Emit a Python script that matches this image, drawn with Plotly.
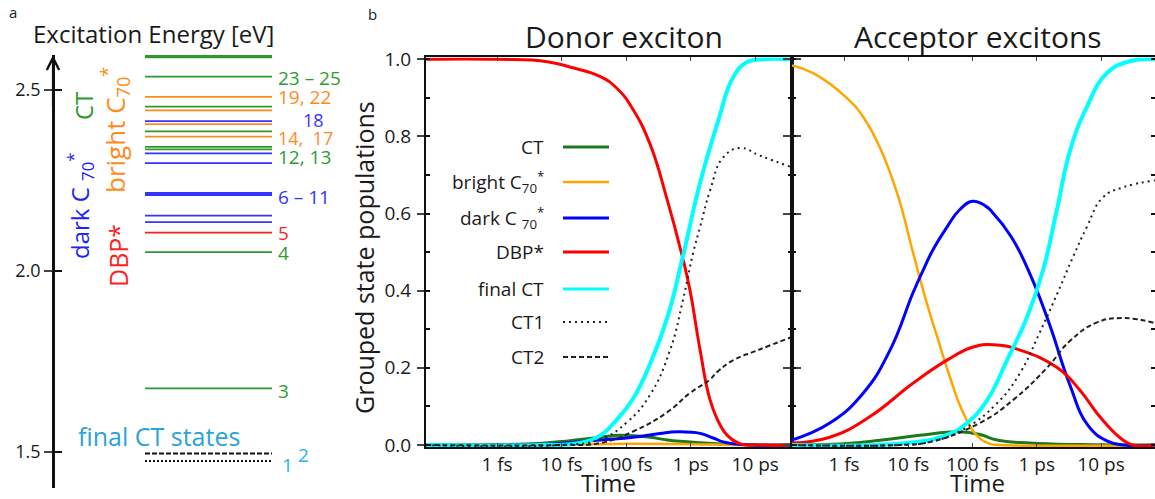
import plotly.graph_objects as go

W, H = 1155, 499
FONT = "Open Sans"
INK = "#1a1a1a"


def px(x):
    return x / W


def py(y):
    return 1 - y / H


# ---------------- panel a: excitation energies [eV] ----------------
CT_LEVELS = [1.676, 2.052, 2.336, 2.343, 2.386, 2.454, 2.537, 2.590, 2.594]
BRIGHT_LEVELS = [2.371, 2.406, 2.444, 2.481]
DARK_LEVELS = [2.135, 2.153, 2.210, 2.212, 2.214, 2.216, 2.298, 2.325, 2.414]
DBP_LEVELS = [2.106]
FINAL_CT1_LEVEL = 1.475
FINAL_CT2_LEVEL = 1.496

STATE_LABELS = ["23 – 25", "19, 22", "18", "14,  17", "12, 13", "6 – 11", "5", "4", "3"]
STATE_LABEL_E = [2.533, 2.481, 2.418, 2.367, 2.315, 2.204, 2.105, 2.050, 1.668]
STATE_LABEL_GROUP = ["ct", "bright", "dark", "bright", "ct", "dark", "dbp", "ct", "ct"]
E_TICKS = [1.5, 2.0, 2.5]

# ---------------- panel b: grouped state populations ----------------
# donor exciton, time in fs
D_T_CT = [0.08, 1, 4.6, 13.5, 40, 80, 235, 435, 1400, 5900, 37000]
D_P_CT = [0.0, 0.001, 0.004, 0.011, 0.02, 0.025, 0.02, 0.013, 0.006, 0.001, 0.0]
D_T_BRIGHT = [0.08, 10, 100, 1000, 5000, 37000]
D_P_BRIGHT = [0.0, 0.001, 0.003, 0.002, 0.0, 0.0]
D_T_DARK = [0.08, 1, 9.5, 40, 128, 335, 620, 1400, 2240, 3200, 5900, 37000]
D_P_DARK = [0.0, 0.0, 0.004, 0.013, 0.02, 0.03, 0.034, 0.03, 0.018, 0.008, 0.001, 0.0]
D_T_DBP = [0.08, 1, 6, 15, 40, 72, 128, 235, 435, 740, 980, 1400, 2000, 2900, 3700, 5900, 12000, 37000]
D_P_DBP = [1.0, 1.0, 0.994, 0.978, 0.955, 0.925, 0.87, 0.78, 0.635, 0.49, 0.40, 0.246, 0.117, 0.05, 0.025, 0.003, 0.0, 0.0]
D_T_FINAL = [0.08, 4.6, 19, 40, 67, 128, 235, 435, 760, 1400, 2600, 4600, 7500, 12000, 37000]
D_P_FINAL = [0.0, 0.0, 0.005, 0.025, 0.06, 0.12, 0.21, 0.33, 0.49, 0.68, 0.834, 0.955, 0.993, 1.0, 1.0]
D_T_CT1 = [0.08, 9.5, 40, 105, 235, 480, 760, 1100, 1400, 2000, 3200, 5900, 12000, 37000]
D_P_CT1 = [0.0, 0.0, 0.015, 0.06, 0.13, 0.246, 0.376, 0.50, 0.565, 0.66, 0.746, 0.77, 0.75, 0.72]
D_T_CT2 = [0.08, 9.5, 40, 128, 435, 980, 2000, 2600, 4600, 10700, 37000]
D_P_CT2 = [0.0, 0.0, 0.005, 0.035, 0.085, 0.135, 0.17, 0.19, 0.22, 0.245, 0.28]

# acceptor excitons, time in fs
A_T_CT = [0.155, 1, 3.6, 15, 64, 130, 240, 780, 4700, 69000]
A_P_CT = [0.0, 0.003, 0.012, 0.025, 0.034, 0.027, 0.013, 0.005, 0.001, 0.0]
A_T_BRIGHT = [0.155, 0.33, 1.1, 2.0, 3.6, 6.7, 11.8, 17.8, 28.2, 44.7, 70.8, 112, 178, 282, 69000]
A_P_BRIGHT = [0.984, 0.964, 0.90, 0.85, 0.772, 0.653, 0.50, 0.39, 0.28, 0.175, 0.085, 0.028, 0.004, 0.0, 0.0]
A_T_DARK = [0.155, 0.6, 2.0, 5.2, 11.8, 17, 24, 40, 63, 100, 158, 200, 400, 800, 1600, 3200, 6300, 12600, 22000, 69000]
A_P_DARK = [0.013, 0.057, 0.135, 0.246, 0.394, 0.453, 0.505, 0.565, 0.61, 0.632, 0.62, 0.605, 0.54, 0.44, 0.31, 0.16, 0.05, 0.01, 0.0, 0.0]
A_T_DBP = [0.155, 0.6, 2.5, 11.8, 40, 102, 208, 550, 2100, 4700, 9600, 20000, 31000, 69000]
A_P_DBP = [0.005, 0.02, 0.073, 0.16, 0.22, 0.254, 0.26, 0.246, 0.20, 0.142, 0.073, 0.018, 0.0, 0.0]
A_T_FINAL = [0.155, 9.6, 40, 82, 170, 345, 700, 1250, 2100, 3300, 6000, 12300, 28000, 69000]
A_P_FINAL = [0.0, 0.005, 0.026, 0.057, 0.117, 0.22, 0.33, 0.453, 0.617, 0.764, 0.876, 0.964, 0.995, 1.0]
A_T_CT1 = [0.155, 7.4, 22, 71, 240, 550, 1100, 2100, 3650, 6000, 10700, 22000, 69000]
A_P_CT1 = [0.0, 0.0, 0.008, 0.04, 0.108, 0.187, 0.29, 0.394, 0.487, 0.565, 0.642, 0.668, 0.686]
A_T_CT2 = [0.155, 7.4, 22, 130, 430, 1440, 3300, 8700, 22000, 69000]
A_P_CT2 = [0.0, 0.0, 0.008, 0.057, 0.117, 0.2, 0.27, 0.318, 0.329, 0.316]

TIME_TICKS = [1, 10, 100, 1000, 10000]
TIME_TICK_TEXT = ["1 fs", "10 fs", "100 fs", "1 ps", "10 ps"]

# ---------------- styles ----------------
LEVEL_COLORS = {"ct": "#2e9b2e", "bright": "#ff8a1c", "dark": "#3434ff", "dbp": "#ff1f1f"}
SERIES_STYLE = [
    ("CT", "#1c7a1c", 3, None),
    ("bright C<sub>70</sub><sup>*</sup>", "#ffa500", 2.5, None),
    ("dark C <sub>70</sub><sup>*</sup>", "#0000ff", 3, None),
    ("DBP*", "#ff0000", 3, None),
    ("final CT", "#00ffff", 4, None),
    ("CT1", "#222222", 2, "2px,4px"),
    ("CT2", "#222222", 2, "5px,3px"),
]

DONOR = [(D_T_CT, D_P_CT), (D_T_BRIGHT, D_P_BRIGHT), (D_T_DARK, D_P_DARK), (D_T_DBP, D_P_DBP),
         (D_T_FINAL, D_P_FINAL), (D_T_CT1, D_P_CT1), (D_T_CT2, D_P_CT2)]
ACCEPTOR = [(A_T_CT, A_P_CT), (A_T_BRIGHT, A_P_BRIGHT), (A_T_DARK, A_P_DARK), (A_T_DBP, A_P_DBP),
            (A_T_FINAL, A_P_FINAL), (A_T_CT1, A_P_CT1), (A_T_CT2, A_P_CT2)]

fig = go.Figure()


def level_xy(levels):
    xs, ys = [], []
    for e in levels:
        xs += [0, 1, None]
        ys += [e, e, None]
    return xs, ys


# energy levels
for levels, key in [(CT_LEVELS, "ct"), (BRIGHT_LEVELS, "bright"), (DARK_LEVELS, "dark"), (DBP_LEVELS, "dbp")]:
    xs, ys = level_xy(levels)
    fig.add_trace(go.Scatter(x=xs, y=ys, mode="lines", xaxis="x3", yaxis="y3",
                             line=dict(color=LEVEL_COLORS[key], width=1.8),
                             showlegend=False, hoverinfo="skip"))
for lvl, dash in [(FINAL_CT2_LEVEL, "5px,2px"), (FINAL_CT1_LEVEL, "2px,2px")]:
    xs, ys = level_xy([lvl])
    fig.add_trace(go.Scatter(x=xs, y=ys, mode="lines", xaxis="x3", yaxis="y3",
                             line=dict(color="#111111", width=2, dash=dash),
                             showlegend=False, hoverinfo="skip"))
# companion axis carrying the inner half of the energy ticks
fig.add_trace(go.Scatter(x=[], y=[], xaxis="x3", yaxis="y4", showlegend=False, hoverinfo="skip"))

# population curves
for (name, color, width, dash), (t, p) in zip(SERIES_STYLE, DONOR):
    fig.add_trace(go.Scatter(x=t, y=p, mode="lines", xaxis="x", yaxis="y", name=name,
                             line=dict(color=color, width=width, dash=dash, shape="spline", smoothing=1.3),
                             showlegend=False))
for (name, color, width, dash), (t, p) in zip(SERIES_STYLE, ACCEPTOR):
    fig.add_trace(go.Scatter(x=t, y=p, mode="lines", xaxis="x2", yaxis="y2", name=name,
                             line=dict(color=color, width=width, dash=dash, shape="spline", smoothing=1.3),
                             showlegend=False))

# ---------------- annotations ----------------
ann = []


def text(x, y, s, size, color=INK, angle=0, xanchor="center", yanchor="middle",
         xref="paper", yref="paper", yshift=0):
    ann.append(dict(x=x, y=y, xref=xref, yref=yref, text=s, showarrow=False, textangle=angle,
                    xanchor=xanchor, yanchor=yanchor, yshift=yshift,
                    font=dict(family=FONT, size=size, color=color)))


text(px(13), py(12), "a", 15)
text(px(372), py(14), "b", 15)
text(px(153.5), py(34), "Excitation Energy [eV]", 24)

# arrow head on the energy axis
E_AXIS_X = (53 - 145) / 127
ann.append(dict(x=E_AXIS_X, y=2.5967, xref="x3", yref="y3", ax=E_AXIS_X, ay=2.45,
                axref="x3", ayref="y3", showarrow=True, arrowhead=5, arrowsize=1.1,
                arrowwidth=2.2, arrowcolor="#111111", text=""))

text(px(83), py(106), "CT", 24, LEVEL_COLORS["ct"], -90)
text(px(115), py(130), "bright C<sub>70</sub><sup>*</sup>", 26, LEVEL_COLORS["bright"], -90)
text(px(80), py(206), "dark C <sub>70</sub><sup>*</sup>", 24, "#2020ff", -90)
text(px(118), py(256), "DBP*", 25, LEVEL_COLORS["dbp"], -90)
text(px(159), py(436), "final CT states", 25, "#2aa4d5")

for s, e, g in zip(STATE_LABELS, STATE_LABEL_E, STATE_LABEL_GROUP):
    xl = 1.23 if s == "18" else 1.03
    size = 18 if s in ("18", "14,  17") else 19
    text(xl, e, s, size, LEVEL_COLORS[g], xanchor="left", xref="x3", yref="y3")
text(1.066, 1.463, "1", 19, "#22b5f0", xanchor="left", xref="x3", yref="y3")
text(1.186, 1.492, "2", 19, "#22b5f0", xanchor="left", xref="x3", yref="y3")

text(px(623.5), py(37), "Donor exciton", 30)
text(px(977.5), py(37), "Acceptor excitons", 30)
text(px(364), py(258), "Grouped state populations", 25, angle=-90)
text(px(608), 0, "Time", 24, yanchor="bottom", yshift=-2)
text(px(978), 0, "Time", 24, yanchor="bottom", yshift=-2)

# legend (labels left of the line keys)
LEGEND_ROWS = [147, 182, 218, 252, 289, 322, 357]
shapes = []
for (name, color, width, dash), yy in zip(SERIES_STYLE, LEGEND_ROWS):
    text(px(546), py(yy), name, 19, xanchor="right")
    shapes.append(dict(type="line", xref="paper", yref="paper", x0=px(563), x1=px(609),
                       y0=py(yy), y1=py(yy),
                       line=dict(color=color, width=min(width, 3), dash=dash)))

# ---------------- axes ----------------
Y_DOM = [py(446.9), py(57.4)]
axis_common = dict(showgrid=False, zeroline=False, showline=True, linecolor="#111111")

fig.update_layout(
    width=W, height=H,
    margin=dict(l=0, r=0, t=0, b=0, autoexpand=False),
    paper_bgcolor="white", plot_bgcolor="rgba(0,0,0,0)",
    font=dict(family=FONT, color=INK),
    annotations=ann, shapes=shapes,
    xaxis=dict(domain=[px(426), px(792)], anchor="y", type="log", range=[-1.10, 4.57],
               tickmode="array", tickvals=TIME_TICKS, ticktext=TIME_TICK_TEXT,
               ticks="inside", ticklen=4, tickwidth=1, mirror="ticks", linewidth=1.5,
               tickfont=dict(size=19, color=INK), ticklabelstandoff=0, automargin=False,
               **axis_common),
    xaxis2=dict(domain=[px(792), 1.0], anchor="y2", type="log", range=[-0.81, 4.84],
                tickmode="array", tickvals=TIME_TICKS, ticktext=TIME_TICK_TEXT,
                ticks="inside", ticklen=4, tickwidth=1, mirror="ticks", linewidth=1.5,
                tickfont=dict(size=19, color=INK), ticklabelstandoff=0, automargin=False,
                **axis_common),
    yaxis=dict(domain=Y_DOM, anchor="x", range=[-0.005, 1.005], tick0=0, dtick=0.2,
               tickformat=".1f", ticks="outside", ticklen=7, tickwidth=1.5, mirror="ticks",
               linewidth=2, tickfont=dict(size=19, color=INK), ticklabelstandoff=2,
               minor=dict(ticks="inside", ticklen=4, dtick=0.1, tick0=0, tickcolor="#111111"),
               automargin=False, **axis_common),
    yaxis2=dict(domain=Y_DOM, anchor="x2", range=[-0.005, 1.005], tick0=0, dtick=0.2,
                showticklabels=False, ticks="outside", ticklen=7, tickwidth=1.5, mirror="ticks",
                linewidth=2, minor=dict(ticks="inside", ticklen=4, dtick=0.1, tick0=0,
                                        tickcolor="#111111"),
                automargin=False, **axis_common),
    xaxis3=dict(domain=[0, px(416)], anchor="y3", range=[-1.1417, 2.1339], visible=False),
    yaxis3=dict(domain=[py(488), py(55)], anchor="free", position=px(53),
                range=[1.4006, 2.5967], tickmode="array", tickvals=E_TICKS,
                ticktext=["1.5", "2.0", "2.5"], ticks="outside", ticklen=8, tickwidth=2,
                linewidth=2.5, tickfont=dict(size=18, color=INK), automargin=False,
                **axis_common),
    yaxis4=dict(overlaying="y3", anchor="free", position=px(53), range=[1.4006, 2.5967],
                tickmode="array", tickvals=E_TICKS, ticks="inside", ticklen=8, tickwidth=2,
                showticklabels=False, showline=False, showgrid=False, zeroline=False,
                tickcolor="#111111", automargin=False),
)

fig.write_html("out.html")
